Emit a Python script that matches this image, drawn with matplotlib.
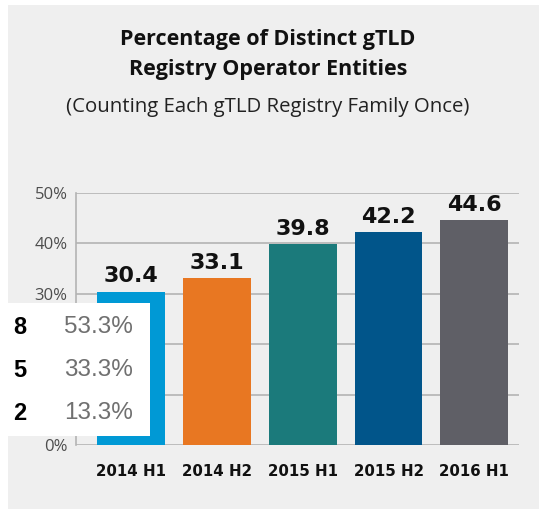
import matplotlib.pyplot as plt
from matplotlib.patches import Rectangle

# datos del grafico
periodos = ['2014 H1', '2014 H2', '2015 H1', '2015 H2', '2016 H1']
porcentajes = [30.4, 33.1, 39.8, 42.2, 44.6]
etiquetas_y = ['0%', '10%', '20%', '30%', '40%', '50%']

# recuadro blanco superpuesto
conteos = [8, 5, 2]
partes = ['53.3%', '33.3%', '13.3%']

colores = ['#0099d5', '#e87722', '#1b7a7b', '#01558a', '#5f5f66']

fig = plt.figure(figsize=(5.39, 5.09), dpi=100)
fig.patch.set_facecolor('white')
fig.patches.append(Rectangle((8 / 539, 0), 1, (509 - 5) / 509, transform=fig.transFigure,
                             facecolor='#efefef', edgecolor='none', zorder=-5))

fig.text(0.497, 1 - 40 / 509, 'Percentage of Distinct gTLD', ha='center', va='center',
         fontsize=15.5, fontweight='bold', family='Open Sans', color='#111111')
fig.text(0.497, 1 - 70 / 509, 'Registry Operator Entities', ha='center', va='center',
         fontsize=15.5, fontweight='bold', family='Open Sans', color='#111111')
fig.text(0.497, 1 - 107 / 509, '(Counting Each gTLD Registry Family Once)', ha='center', va='center',
         fontsize=14.7, family='Open Sans', color='#222222')

ax = fig.add_axes([76 / 539, 64 / 509, 443 / 539, 252 / 509])
ax.set_facecolor('none')
x = range(len(periodos))
barras = ax.bar(x, porcentajes, width=0.79, color=colores, zorder=3)
for b, v in zip(barras, porcentajes):
    ax.annotate(f'{v}', (b.get_x() + b.get_width() / 2, v), xytext=(0, 4),
                textcoords='offset points', ha='center', va='bottom',
                fontsize=16, fontweight='bold', color='#111111')

ax.set_ylim(0, 50)
ax.set_xlim(-0.64, 4.52)
ax.set_yticks(range(0, 51, 10))
ax.set_yticklabels(etiquetas_y, fontsize=12, color='#4d4d4d', family='Open Sans')
ax.set_xticks(list(x))
ax.set_xticklabels(periodos, fontsize=10.8, fontweight='bold', color='#111111',
                   family=['Liberation Sans Narrow', 'DejaVu Sans'])
ax.tick_params(length=0, axis='both')
ax.tick_params(axis='x', pad=14)
ax.tick_params(axis='y', pad=6)
ax.grid(axis='y', color='#b3b3b3', linewidth=1.2, zorder=0)
for s in ['top', 'right', 'bottom']:
    ax.spines[s].set_visible(False)
ax.spines['left'].set_color('#b3b3b3')
ax.spines['left'].set_linewidth(1.2)

# recuadro blanco con los conteos
caja = fig.add_axes([0, (509 - 436) / 509, 150 / 539, 133 / 509])
caja.set_facecolor('white')
caja.set_xlim(0, 150)
caja.set_ylim(436, 303)
caja.axis('off')
caja.add_patch(Rectangle((0, 303), 150, 133, facecolor='white', edgecolor='none'))
for i, (c, p) in enumerate(zip(conteos, partes)):
    yy = 327 + i * 43
    caja.text(13, yy, str(c), ha='left', va='center', fontsize=17, fontweight='bold',
              color='black', family='Liberation Sans')
    caja.text(133, yy, p, ha='right', va='center', fontsize=17.5,
              color='#707070', family='Liberation Sans')

fig.savefig('out.png', dpi=100)
